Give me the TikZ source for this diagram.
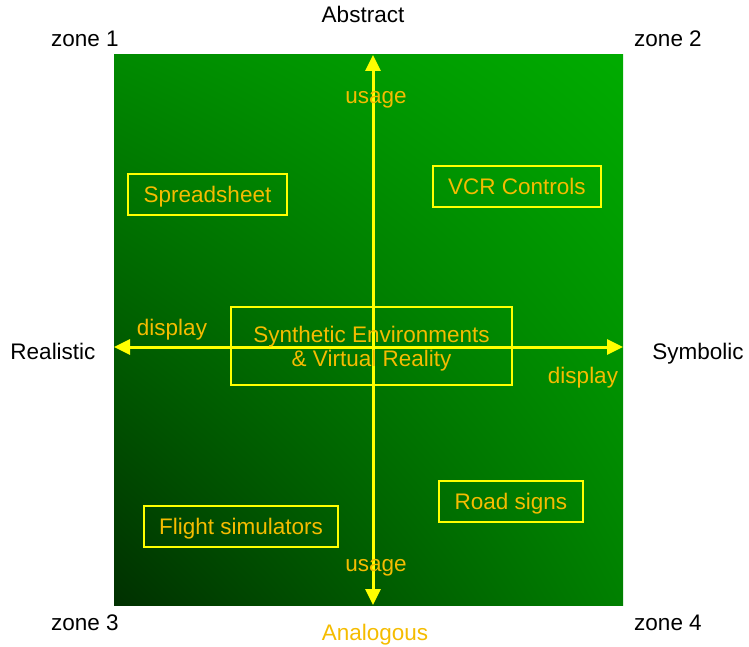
\documentclass[tikz,border=0pt]{standalone}
\usepackage{fontspec}
\setmainfont{Liberation Sans}
\usepackage{tikz}
\usetikzlibrary{arrows.meta,positioning,calc,shadings}

\definecolor{gold}{HTML}{F5BC00}
\definecolor{lineyellow}{HTML}{FFFF00}
\definecolor{greenUL}{RGB}{0,138,0}
\definecolor{greenUR}{RGB}{0,172,0}
\definecolor{greenLL}{RGB}{0,48,0}
\definecolor{greenLR}{RGB}{0,128,0}

\begin{document}
\begin{tikzpicture}[x=0.5pt,y=-0.5pt,
    font=\fontsize{11.25}{12}\selectfont,
    lbl/.style={inner sep=0pt,text=black,text height=8pt,text depth=0pt},
    gold lbl/.style={lbl,text=gold},
    zbox/.style={draw=lineyellow,line width=1.25pt,text=gold,inner sep=0pt,text height=8pt,text depth=0pt},
    axis/.style={draw=lineyellow,line width=1.5pt,{Triangle[length=8pt,width=7.5pt]}-{Triangle[length=8pt,width=7.5pt]}}]
   \useasboundingbox (0,0) rectangle (749,647);
   % background
   \shade[upper left=greenUL,upper right=greenUR,lower left=greenLL,lower right=greenLR]
          (114,55) rectangle (623,605);
   % axis end points
   \coordinate (top) at (373,55);
   \coordinate (bottom) at (373,605);
   \coordinate (left) at (114,347);
   \coordinate (right) at (623,347);
   \draw[axis] (bottom) -- (top);
   \draw[axis] (right) -- (left);
   % corner and side labels
   \node[lbl] (abstract) at (363,15) {Abstract};
   \node[lbl] (zone1) at (85,39) {zone 1};
   \node[lbl] (zone2) at (668,39) {zone 2};
   \node[lbl] (zone3) at (85,622) {zone 3};
   \node[lbl] (zone4) at (668,622) {zone 4};
   \node[lbl] (realistic) at (53,351) {Realistic};
   \node[lbl] (symbolic) at (698,351) {Symbolic};
   \node[gold lbl] (analogous) at (375,632.5) {Analogous};
   % axis labels
   \node[gold lbl] (usageup) at (376,96) {usage};
   \node[gold lbl] (usagedown) at (376,563) {usage};
   \node[gold lbl] (displayleft) at (172,327) {display};
   \node[gold lbl] (displayright) at (583,375) {display};
   % boxes
   \node[zbox,minimum width=79.5pt,minimum height=20.5pt] (spreadsheet) at (207.5,194.5) {Spreadsheet};
   \node[zbox,minimum width=84pt,minimum height=20.5pt] (vcr) at (517,186.5) {VCR Controls};
   \node[zbox,text height=,align=center,minimum width=140.5pt,minimum height=39pt] (synthetic) at (371.5,346) {Synthetic Environments\\\& Virtual Reality};
   \node[zbox,minimum width=72pt,minimum height=20.5pt] (roadsigns) at (511,501.5) {Road signs};
   \node[zbox,minimum width=97pt,minimum height=20.5pt] (flight) at (241,526.5) {Flight simulators};
\end{tikzpicture}
\end{document}
